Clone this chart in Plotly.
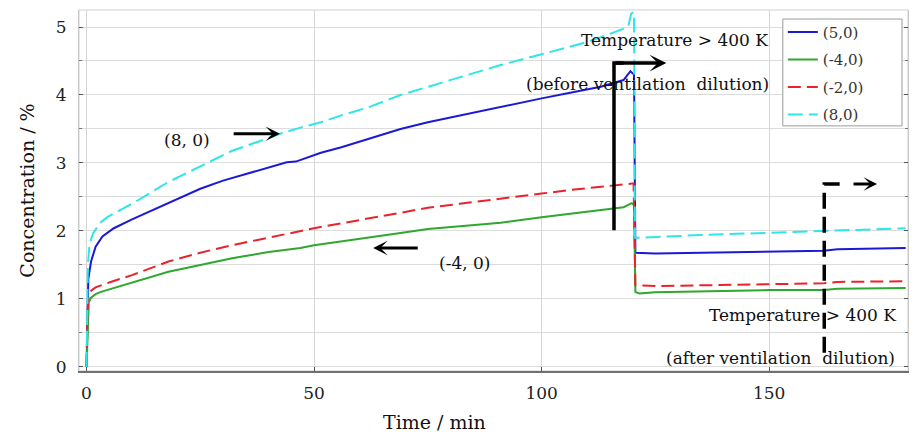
import plotly.graph_objects as go

# Time axis (min) for each monitoring point
t_blue = [0, 0.2, 0.4, 1, 2, 3.5, 6, 10, 15, 20, 25, 30, 35, 40, 44, 46, 48, 51.5, 56, 62, 69, 75, 82,
          91, 100, 106, 113, 118, 119.5, 120.3, 120.6, 125, 135, 150, 162, 165, 180]
c_blue = [0, 1.0, 1.3, 1.55, 1.77, 1.92, 2.04, 2.17, 2.32, 2.48, 2.62, 2.74, 2.84, 2.94, 3.01, 3.02, 3.07, 3.15,
          3.23, 3.35, 3.5, 3.6, 3.7, 3.82, 3.95, 4.03, 4.12, 4.22, 4.35, 4.3, 1.68, 1.67, 1.68, 1.7, 1.71, 1.73, 1.75]

t_green = [0, 0.2, 0.35, 0.5, 1, 2, 3, 6, 10, 18, 25, 32, 40, 47, 50, 60, 69, 75, 82, 91, 100, 106, 113,
           118, 119.8, 120.3, 120.6, 121.5, 125, 135, 150, 162, 165, 180]
c_green = [0, 0.4, 0.8, 0.95, 1.02, 1.07, 1.1, 1.16, 1.24, 1.4, 1.5, 1.6, 1.69, 1.75, 1.79, 1.88, 1.97, 2.03,
           2.07, 2.12, 2.2, 2.25, 2.31, 2.35, 2.41, 2.38, 1.1, 1.08, 1.1, 1.11, 1.13, 1.13, 1.15, 1.16]

t_red = [0, 0.1, 0.2, 0.4, 0.6, 1, 2, 5.3, 10, 18, 25, 32, 40, 50, 60, 69, 75, 82, 91, 100, 106, 113, 118,
         120.2, 120.6, 125, 135, 150, 162, 165, 180]
c_red = [0, 0.5, 0.75, 1.0, 1.08, 1.12, 1.17, 1.25, 1.35, 1.55, 1.68, 1.79, 1.9, 2.04, 2.16, 2.27, 2.34, 2.4,
         2.48, 2.55, 2.6, 2.65, 2.68, 2.7, 1.2, 1.19, 1.2, 1.22, 1.23, 1.25, 1.26]

t_cyan = [0, 0.3, 0.6, 1, 1.5, 2.2, 3, 4.5, 6, 8, 10, 15, 18, 25, 32, 38, 43, 47, 51.5, 56, 62, 69, 75, 82,
          91, 100, 106, 109, 113, 117, 119, 119.7, 120.3, 120.5, 121.5, 135, 150, 165, 180]
c_cyan = [0, 1.5, 1.75, 1.88, 1.97, 2.05, 2.12, 2.2, 2.26, 2.33, 2.4, 2.6, 2.72, 2.95, 3.18, 3.32, 3.44, 3.52,
          3.6, 3.7, 3.82, 4.0, 4.12, 4.25, 4.44, 4.6, 4.7, 4.76, 4.85, 4.95, 5.0, 5.2, 5.22, 1.9, 1.9, 1.94,
          1.97, 2.0, 2.04]

series_names = ["(5,0)", "(-4,0)", "(-2,0)", "(8,0)"]
x_ticks = [0, 50, 100, 150]
y_ticks = [0, 1, 2, 3, 4, 5]

FONT = "DejaVu Serif"

fig = go.Figure()
styles = [
    (t_blue, c_blue, "#1a1ad6", "solid"),
    (t_green, c_green, "#2ea82e", "solid"),
    (t_red, c_red, "#e8232b", "13px,6px"),
    (t_cyan, c_cyan, "#2ee6e6", "15px,6px"),
]
for name, (tt, cc, col, dash) in zip(series_names, styles):
    fig.add_trace(go.Scatter(x=tt, y=cc, mode="lines", name=name, legendgroup=name,
                             line=dict(color=col, width=2, dash=dash)))

ann_font = dict(family=FONT, size=17, color="#111")
annotations = [
    dict(x=22.0, y=3.34, text="(8, 0)", showarrow=False, font=ann_font),
    dict(x=83.0, y=1.53, text="(-4, 0)", showarrow=False, font=ann_font),
    dict(x=129.3, y=4.81, text="Temperature > 400 K", showarrow=False, font=ann_font),
    dict(x=123.3, y=4.16, text="(before ventilation\u00a0 dilution)", showarrow=False, font=ann_font),
    dict(x=178.4, y=0.76, text="Temperature > 400 K", showarrow=False, xanchor="right", font=ann_font),
    dict(x=178.1, y=0.13, text="(after ventilation\u00a0 dilution)", showarrow=False, xanchor="right", font=ann_font),
    # arrows
    dict(x=42.5, y=3.43, ax=32.0, ay=3.43, axref="x", ayref="y", text="", showarrow=True,
         arrowhead=3, arrowsize=0.8, arrowwidth=3, arrowcolor="black"),
    dict(x=63.0, y=1.75, ax=73.1, ay=1.75, axref="x", ayref="y", text="", showarrow=True,
         arrowhead=3, arrowsize=0.8, arrowwidth=3, arrowcolor="black"),
    dict(x=127.4, y=4.47, ax=115.9, ay=4.47, axref="x", ayref="y", text="", showarrow=True,
         arrowhead=3, arrowsize=0.8, arrowwidth=3.5, arrowcolor="black"),
    dict(x=173.7, y=2.69, ax=168.2, ay=2.69, axref="x", ayref="y", text="", showarrow=True,
         arrowhead=3, arrowsize=0.75, arrowwidth=3, arrowcolor="black"),
    # x-axis title
    dict(x=0.4294, y=-0.141, xref="paper", yref="paper", text="Time / min", showarrow=False,
         yanchor="middle", font=dict(family=FONT, size=19, color="#111")),
]

shapes = [
    # light frame around the plotting area
    dict(type="rect", xref="paper", yref="paper", x0=0, y0=0, x1=1, y1=1,
         line=dict(color="#cfcfcf", width=1), layer="below"),
    # legend panel (box behind the legend entries)
    dict(type="rect", xref="paper", yref="paper", x0=0.849, x1=0.9928, y0=0.679, y1=0.975,
         fillcolor="white", line=dict(color="#9a9a9a", width=1), layer="above"),
    # solid bracket: before ventilation dilution
    dict(type="path", path="M 115.9,2.01 L 115.9,4.47 L 118,4.47",
         line=dict(color="black", width=3.5)),
    # dashed bracket: after ventilation dilution
    dict(type="path", path="M 162.1,0.21 L 162.1,2.69 L 165.6,2.69",
         line=dict(color="black", width=3.5, dash="16px,8px")),
]

fig.update_layout(
    width=912, height=436,
    margin=dict(l=79, r=4, t=10, b=65),
    paper_bgcolor="white", plot_bgcolor="white",
    font=dict(family=FONT, size=17, color="#222"),
    showlegend=True,
    legend=dict(x=0.849, y=0.984, xanchor="left", yanchor="top",
                bgcolor="rgba(0,0,0,0)", borderwidth=0,
                font=dict(family=FONT, size=15, color="#333"),
                tracegroupgap=5, traceorder="grouped"),
    annotations=annotations,
    shapes=shapes,
)

fig.update_xaxes(
    range=[-1.65, 180.5], tickvals=x_ticks, ticktext=[str(v) for v in x_ticks],
    showgrid=True, gridcolor="#d6d6d6", gridwidth=1, zeroline=False,
    showline=True, linecolor="#707070", linewidth=2,
    ticks="inside", ticklen=4, tickcolor="#555", ticklabelstandoff=6,
    tickfont=dict(family=FONT, size=17, color="#222"),
)
fig.update_yaxes(
    range=[-0.06, 5.25], tickvals=y_ticks, ticktext=[str(v) for v in y_ticks],
    showgrid=True, gridcolor="#dcdcdc", gridwidth=1, zeroline=False,
    showline=True, linecolor="#c8c8c8", linewidth=1, mirror="ticks",
    ticks="inside", ticklen=4, tickcolor="#555", ticklabelstandoff=8,
    minor=dict(dtick=0.5, ticks="inside", ticklen=3, tickcolor="#777", showgrid=True, gridcolor="#dcdcdc"),
    tickfont=dict(family=FONT, size=17, color="#222"),
    title=dict(text="Concentration / %", standoff=16, font=dict(family=FONT, size=19, color="#111")),
)

fig.write_html("out.html")
